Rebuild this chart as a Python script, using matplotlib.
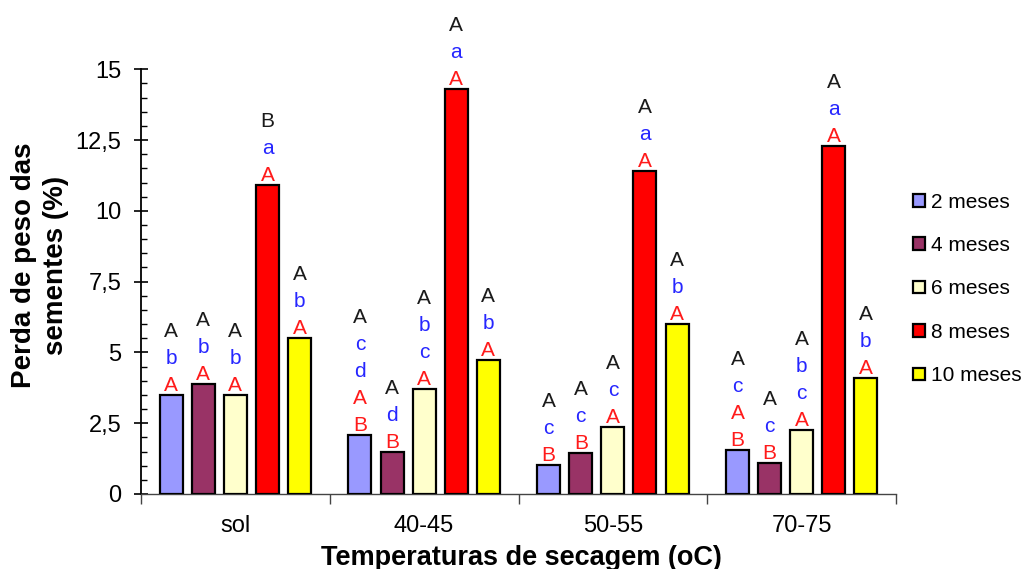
import matplotlib
matplotlib.use("Agg")
import matplotlib.pyplot as plt
from matplotlib.ticker import MultipleLocator, FixedLocator
import numpy as np

plt.rcParams['font.family'] = ['Liberation Sans', 'DejaVu Sans']

categories = ["sol", "40-45", "50-55", "70-75"]
series_names = ["2 meses", "4 meses", "6 meses", "8 meses", "10 meses"]
series_colors = ["#9999FF", "#993366", "#FFFFCC", "#FF0000", "#FFFF00"]

# values[series][category]
v2 = [3.5, 2.1, 1.02, 1.55]
v4 = [3.9, 1.5, 1.45, 1.1]
v6 = [3.5, 3.72, 2.38, 2.25]
v8 = [10.9, 14.3, 11.4, 12.3]
v10 = [5.5, 4.75, 6.0, 4.1]
values = [v2, v4, v6, v8, v10]

# significance letters per series, per category
black_letters = [["A", "A", "A", "A"],
                 ["A", "A", "A", "A"],
                 ["A", "A", "A", "A"],
                 ["B", "A", "A", "A"],
                 ["A", "A", "A", "A"]]
blue_letters = [["b", "cd", "c", "c"],
                ["b", "d", "c", "c"],
                ["b", "bc", "c", "bc"],
                ["a", "a", "a", "a"],
                ["b", "b", "b", "b"]]
red_letters = [["A", "AB", "B", "AB"],
               ["A", "B", "B", "B"],
               ["A", "A", "A", "A"],
               ["A", "A", "A", "A"],
               ["A", "A", "A", "A"]]

yticks = [0, 2.5, 5, 7.5, 10, 12.5, 15]
ytick_labels = ["0", "2,5", "5", "7,5", "10", "12,5", "15"]

fig = plt.figure(figsize=(10.31, 5.69), dpi=100)
ax = fig.add_axes([141/1031, 1-494/569, (896-141)/1031, (494-69.3)/569])

x = np.arange(len(categories))
step = 0.17
width = 0.122
BLUE = "#2626FF"
RED = "#FF1A1A"
BLACK = "#1a1a1a"
line_pt = 27 * 72 / 100
gap_pt = 4 * 72 / 100

for j, (name, col, vals) in enumerate(zip(series_names, series_colors, values)):
    xs = x + (j - 2) * step
    ax.bar(xs, vals, width=width, color=col, edgecolor="black", linewidth=1.6,
           label=name, zorder=3)
    for i, (xx, h) in enumerate(zip(xs, vals)):
        stack = []
        for ch in reversed(red_letters[j][i]):
            stack.append((ch, RED))
        for ch in reversed(blue_letters[j][i]):
            stack.append((ch, BLUE))
        stack.append((black_letters[j][i], BLACK))
        for k, (ch, c) in enumerate(stack):
            ax.annotate(ch, (xx, h), xytext=(0, gap_pt + k * line_pt),
                        textcoords="offset points", ha="center", va="baseline",
                        color=c, fontsize=15, annotation_clip=False)

ax.set_xlim(-0.5, 3.5)
ax.set_ylim(0, 15)
for s in ["top", "right"]:
    ax.spines[s].set_visible(False)
ax.spines["left"].set_linewidth(1.3)
ax.spines["bottom"].set_linewidth(1.0)
ax.spines["bottom"].set_color("#444444")

ax.set_yticks(yticks)
ax.set_yticklabels(ytick_labels, fontsize=17)
ax.yaxis.set_minor_locator(MultipleLocator(0.5))
ax.tick_params(axis="y", which="major", direction="inout", length=10, width=1.2, pad=9)
ax.tick_params(axis="y", which="minor", direction="in", length=4.3, width=1.0)

ax.set_xticks(x)
ax.set_xticklabels(categories, fontsize=17)
ax.xaxis.set_minor_locator(FixedLocator([-0.5, 0.5, 1.5, 2.5, 3.5]))
ax.tick_params(axis="x", which="major", length=0, pad=15)
ax.tick_params(axis="x", which="minor", direction="out", length=7, width=1.0, color="#444444")

fig.text(40/1031, 1-265/569, "Perda de peso das\nsementes (%)", rotation=90,
         ha="center", va="center", fontsize=20, fontweight="bold",
         multialignment="center", linespacing=1.32)
fig.text(521/1031, 1-565/569, "Temperaturas de secagem (oC)", ha="center",
         va="baseline", fontsize=19.5, fontweight="bold")

leg = ax.legend(loc="center left", bbox_to_anchor=(905/1031, 1-289/569),
                bbox_transform=fig.transFigure, frameon=False, fontsize=15,
                handlelength=0.55, handleheight=0.55, handletextpad=0.3,
                labelspacing=1.17, borderaxespad=0)

fig.savefig("out.png", dpi=100)
